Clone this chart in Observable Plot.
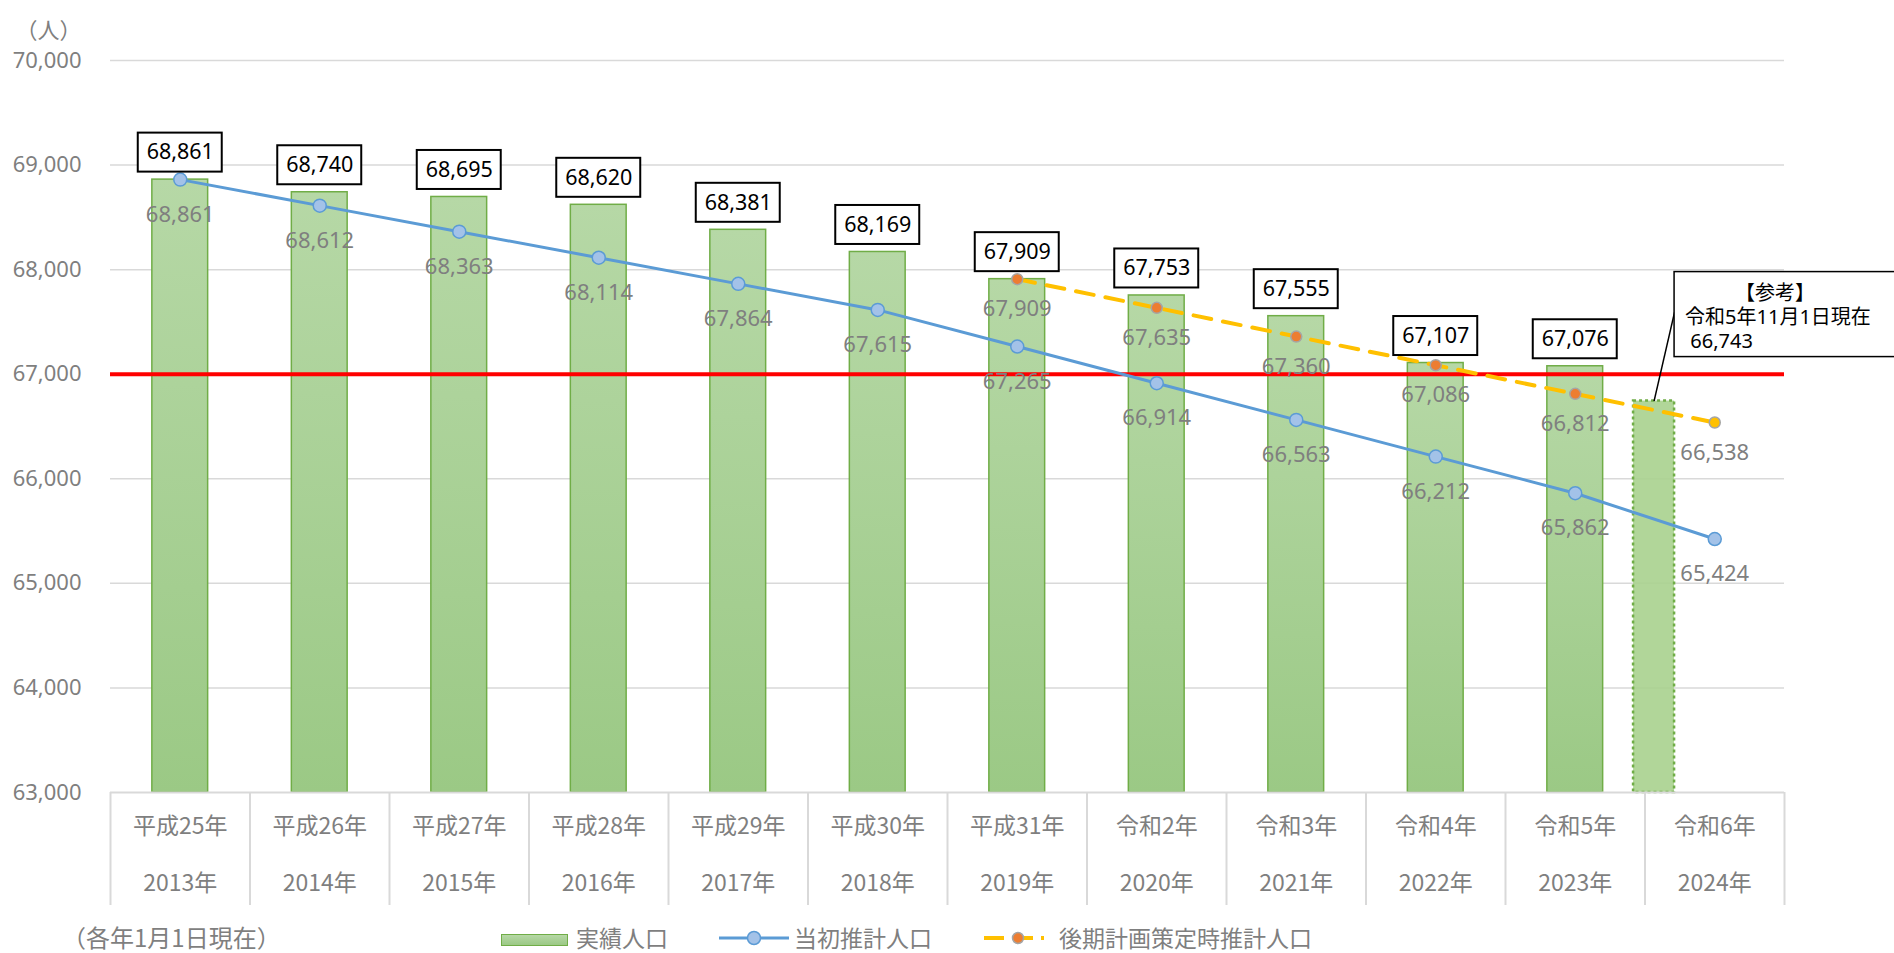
<!DOCTYPE html>
<html>
<head>
<meta charset="utf-8">
<script src="https://cdn.jsdelivr.net/npm/d3@7"></script>
<script src="https://cdn.jsdelivr.net/npm/@observablehq/plot@0.6"></script>
<style>
  body { margin: 0; background: #fff; font-family: 'Noto Sans', 'Noto Sans CJK JP', sans-serif; }
  #legend { position: relative; width: 1894px; height: 33px; color: #7f7f7f; font-size: 23px; font-family: 'Noto Sans CJK JP', sans-serif; }
  #legend .it { position: absolute; top: 2px; line-height: 30px; white-space: nowrap; }
</style>
</head>
<body>
<div id="chart"></div>
<div id="legend"></div>
<script>
// ---- data ----
const eras = ["平成25年","平成26年","平成27年","平成28年","平成29年","平成30年","平成31年","令和2年","令和3年","令和4年","令和5年","令和6年"];
const years = ["2013年","2014年","2015年","2016年","2017年","2018年","2019年","2020年","2021年","2022年","2023年","2024年"];
const actualPop = [68861,68740,68695,68620,68381,68169,67909,67753,67555,67107,67076,null];
const initialEst = [68861,68612,68363,68114,67864,67615,67265,66914,66563,66212,65862,65424];
const laterEst = [null,null,null,null,null,null,67909,67635,67360,67086,66812,66538];
const refValue = 66743;
const refPos = 10.565; // between 令和5年 and 令和6年
const refLines = ["　　　【参考】", "令和5年11月1日現在", " 66,743"];
const targetLine = 67000;
const yTicks = [63000,64000,65000,66000,67000,68000,69000,70000];
const seriesNames = ["実績人口", "当初推計人口", "後期計画策定時推計人口"];
const footnote = "（各年1月1日現在）";
const unitLabel = "（人）";

// ---- derived tables ----
const bars = actualPop.map((v,i)=>({i,v})).filter(d=>d.v!=null);
const initData = initialEst.map((v,i)=>({i,v}));
const laterData = laterEst.map((v,i)=>({i,v})).filter(d=>d.v!=null);
const fmt = d3.format(",");
const boundaries = d3.range(-0.5, eras.length, 1);
const gray = "#7f7f7f";
const jp = "'Noto Sans CJK JP', sans-serif";

const chart = Plot.plot({
  width: 1894,
  height: 920,
  marginLeft: 110,
  marginRight: 110,
  marginTop: 60,
  marginBottom: 128,
  x: {type: "linear", domain: [-0.5, eras.length - 0.5], axis: null},
  y: {domain: [63000, 70000], axis: null},
  style: {fontFamily: "'Noto Sans', 'Noto Sans CJK JP', sans-serif", overflow: "visible", background: "white"},
  marks: [
    Plot.gridY(yTicks.slice(1), {stroke: "#d9d9d9", strokeOpacity: 1, strokeWidth: 1.5}),
    Plot.axisY(yTicks, {tickSize: 0, tickPadding: 29, tickFormat: fmt, fontSize: 22, color: gray, label: null}),
    Plot.text([unitLabel], {frameAnchor: "top-left", text: d=>d, textAnchor: "middle", dx: -62, dy: -38, fontSize: 22, fill: gray, fontFamily: jp}),
    // bars
    Plot.rect(bars, {x1: d=>d.i-0.2, x2: d=>d.i+0.2, y1: 63000, y2: d=>d.v, fill: "url(#barGrad)", stroke: "#70ad47", strokeWidth: 1.5}),
    // reference bar
    Plot.rect([refValue], {x1: refPos-0.147, x2: refPos+0.147, y1: 63000, y2: d=>d, fill: "#a9d18e", fillOpacity: 0.9, stroke: "#70ad47", strokeWidth: 2.5, strokeDasharray: "3,3"}),
    // x axis baseline and separators
    Plot.ruleY([63000], {stroke: "#d9d9d9", strokeWidth: 2}),
    Plot.axisX(boundaries, {tickSize: 113, tickFormat: () => "", stroke: "#d9d9d9", strokeWidth: 2, label: null}),
    Plot.text(eras, {x: (d,i)=>i, frameAnchor: "bottom", text: d=>d, dy: 41, fontSize: 23, fill: gray, fontFamily: jp}),
    Plot.text(years, {x: (d,i)=>i, frameAnchor: "bottom", text: d=>d, dy: 98, fontSize: 23, fill: gray, fontFamily: jp}),
    // target line
    Plot.ruleY([targetLine], {stroke: "#ff0000", strokeWidth: 4}),
    // lines
    Plot.line(initData, {x: "i", y: "v", stroke: "#5b9bd5", strokeWidth: 3}),
    Plot.line(laterData, {x: "i", y: "v", stroke: "#ffc000", strokeWidth: 4, strokeDasharray: "18,12"}),
    Plot.dot(initData, {x: "i", y: "v", r: 6.5, fill: "#a3c2e8", stroke: "#5b9bd5", strokeWidth: 1.5}),
    Plot.dot(laterData, {x: "i", y: "v", r: 5.5, fill: (d,k)=> k === laterData.length-1 ? "#ffc000" : "#ed7d31", stroke: "#a5a5a5", strokeWidth: 1.5}),
    // gray labels
    Plot.text(initData, {x: "i", y: "v", text: d=>fmt(d.v), dy: 35, fontSize: 22, fill: gray}),
    Plot.text(laterData, {x: "i", y: "v", text: d=>fmt(d.v), dy: 30, fontSize: 22, fill: gray}),
    // boxed labels for actual population
    Plot.rect(bars, {x1: d=>d.i-0.301, x2: d=>d.i+0.301, y1: d=>d.v, y2: d=>d.v, insetTop: -46.5, insetBottom: 7.5, fill: "white", stroke: "black", strokeWidth: 2}),
    Plot.text(bars, {x: "i", y: "v", text: d=>fmt(d.v), dy: -27, fontSize: 21.5, fill: "black"}),
    // callout
    Plot.link([refValue], {x1: refPos+0.147, y1: d=>d+850, x2: refPos, y2: d=>d, stroke: "black", strokeWidth: 1.5}),
    Plot.rect([refValue], {x1: refPos+0.147, x2: 12.45, y1: d=>d, y2: d=>d, insetTop: -129, insetBottom: 44, fill: "white", stroke: "black", strokeWidth: 1.5}),
    Plot.text([refLines.join("\n")], {x: refPos, y: refValue, text: d=>d, dx: 31, dy: -85, textAnchor: "start", lineHeight: 1.22, fontSize: 20, fill: "black"})
  ]
});

// gradient for bars
const ns = "http://www.w3.org/2000/svg";
const defs = document.createElementNS(ns, "defs");
defs.innerHTML = '<linearGradient id="barGrad" x1="0" y1="0" x2="0" y2="1"><stop offset="0" stop-color="#b6d8a6"/><stop offset="1" stop-color="#9bc985"/></linearGradient>';
chart.insertBefore(defs, chart.firstChild);
document.getElementById("chart").appendChild(chart);

// legend
const legend = document.getElementById("legend");
legend.innerHTML = `
  <div class="it" style="left:62px;font-size:24px">${footnote}</div>
  <div class="it" style="left:501px;top:14px;width:65px;height:10px;border:1.5px solid #70ad47;background:linear-gradient(#b6d8a6,#9bc985)"></div>
  <div class="it" style="left:576px">${seriesNames[0]}</div>
  <svg class="it" style="left:719px;top:8px" width="70" height="20"><line x1="0" y1="10" x2="70" y2="10" stroke="#5b9bd5" stroke-width="3"/><circle cx="35" cy="10" r="6.5" fill="#a3c2e8" stroke="#5b9bd5" stroke-width="1.5"/></svg>
  <div class="it" style="left:794px">${seriesNames[1]}</div>
  <svg class="it" style="left:984px;top:8px" width="64" height="20"><line x1="0" y1="10" x2="64" y2="10" stroke="#ffc000" stroke-width="4" stroke-dasharray="20,11,18,8,3,40"/><circle cx="34" cy="10" r="5.5" fill="#ed7d31" stroke="#a5a5a5" stroke-width="1.5"/></svg>
  <div class="it" style="left:1059px">${seriesNames[2]}</div>
`;
</script>
</body>
</html>
